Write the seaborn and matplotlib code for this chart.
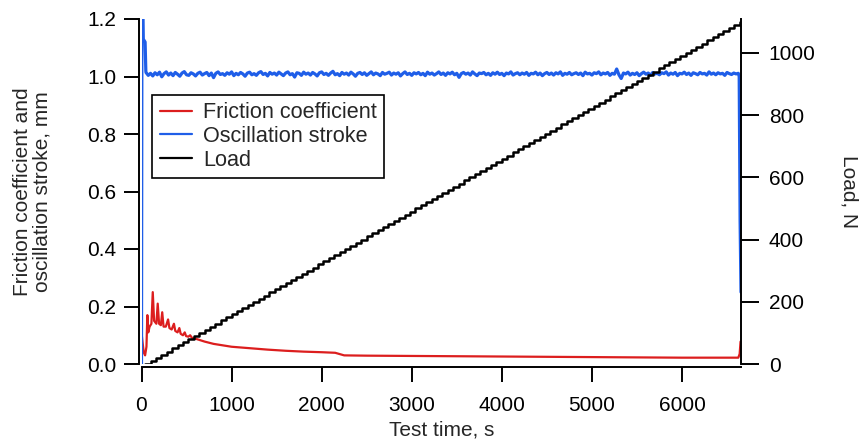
import numpy as np
import pandas as pd
import matplotlib
matplotlib.use("Agg")
import matplotlib.pyplot as plt
import seaborn as sns

# ---------------- data ----------------
friction_time = [0, 10, 25, 40, 55, 65, 75, 90, 110, 125, 140, 165, 180, 195, 215,
                 230, 245, 270, 295, 310, 335, 360, 375, 400, 420, 435, 460, 480,
                 495, 520, 540, 560, 600, 650, 700, 800, 900, 1000, 1200, 1400,
                 1600, 1800, 2000, 2150, 2250, 2500, 3000, 3500, 4000, 4500, 5000,
                 5500, 6000, 6400, 6625, 6640, 6650]
friction_val = [0.11, 0.08, 0.04, 0.03, 0.06, 0.17, 0.11, 0.13, 0.14, 0.25, 0.15,
                0.14, 0.21, 0.14, 0.135, 0.18, 0.13, 0.13, 0.155, 0.125, 0.12, 0.14,
                0.115, 0.11, 0.125, 0.105, 0.10, 0.11, 0.097, 0.095, 0.10, 0.091,
                0.088, 0.083, 0.078, 0.070, 0.065, 0.060, 0.055, 0.050, 0.046,
                0.043, 0.041, 0.039, 0.030, 0.029, 0.028, 0.027, 0.026, 0.025,
                0.024, 0.023, 0.022, 0.022, 0.022, 0.035, 0.078]

stroke_start_time = [0, 5, 15, 20, 40, 48]
stroke_start_val = [0.0, 1.30, 1.25, 1.13, 1.12, 1.02]
stroke_noise = [
    1.014, 1.004, 1.011, 1.002, 1.013, 1.006, 1.015, 0.999, 1.010, 1.016, 1.005, 1.012,
    1.003, 1.014, 1.008, 1.001, 1.012, 1.017, 1.006, 1.004, 1.013, 1.009, 1.002, 1.011,
    1.015, 1.005, 1.010, 1.014, 1.003, 1.012, 0.996, 1.011, 1.016, 1.007, 1.010, 1.004,
    1.013, 1.008, 1.016, 1.003, 1.011, 1.006, 1.014, 1.009, 1.001, 1.012, 1.015, 1.006,
    1.010, 1.004, 1.013, 1.017, 1.007, 1.011, 1.002, 1.014, 1.008, 1.012, 1.005, 1.015,
    1.009, 1.003, 1.012, 1.016, 1.006, 1.010, 0.998, 1.013, 1.011, 1.004, 1.015, 1.008,
    1.012, 1.005, 1.014, 1.009, 1.002, 1.013, 1.016, 1.007, 1.011, 1.004, 1.012, 1.018,
    1.006, 1.010, 1.003, 1.014, 1.008, 1.012, 1.005, 1.015, 1.009, 1.001, 1.011, 1.014,
    1.007, 1.013, 1.004, 1.010, 1.016, 1.006, 1.012, 1.009, 1.003, 1.014, 1.008, 1.011,
    1.015, 1.005, 1.012, 1.008, 1.013, 1.002, 1.010, 1.016, 1.007, 1.011, 1.004, 1.013,
    1.009, 1.014, 1.006, 1.011, 1.003, 1.015, 1.008, 1.012, 1.005, 1.010, 1.016, 1.007,
    1.012, 1.004, 1.013, 1.009, 1.015, 1.006, 1.011, 0.997, 1.010, 1.014, 1.008, 1.012,
    1.005, 1.016, 1.009, 1.003, 1.012, 1.010, 1.014, 1.006, 1.011, 1.004, 1.013, 1.008,
    1.015, 1.007, 1.011, 1.003, 1.012, 1.009, 1.016, 1.005, 1.010, 1.013, 1.006, 1.012,
    1.008, 1.014, 1.004, 1.011, 1.009, 1.015, 1.006, 1.012, 1.003, 1.010, 1.014, 1.007,
    1.012, 1.005, 1.013, 1.009, 1.016, 1.004, 1.011, 1.008, 1.014, 1.006, 1.010, 1.013,
    1.007, 1.012, 1.003, 1.015, 1.009, 1.011, 1.005, 1.013, 1.010, 1.016, 1.006, 1.012,
    1.009, 1.014, 1.004, 1.011, 1.008, 1.026, 1.006, 0.993, 1.012, 1.009, 1.015, 1.005,
    1.011, 1.007, 1.013, 1.003, 1.010, 1.015, 1.008, 1.012, 1.004, 1.014, 1.009, 1.011,
    1.006, 1.013, 1.010, 1.016, 1.005, 1.012, 1.008, 1.014, 1.003, 1.011, 1.009, 1.015,
    1.007, 1.012, 1.004, 1.013, 1.010, 1.006, 1.014, 1.009, 1.011, 1.005, 1.016, 1.008,
    1.012, 1.006, 1.013, 1.009, 1.011, 1.004, 1.014, 1.010, 1.007, 1.012, 1.009, 1.011]
stroke_end_time = [6635, 6645, 6655]
stroke_end_val = [1.00, 0.50, 0.25]

load_N = [0, 10, 20, 30, 40, 50, 60, 70, 80, 90, 100, 110, 120, 130, 140, 150,
          160, 170, 180, 190, 200, 210, 220, 230, 240, 250, 260, 270, 280, 290,
          300, 310, 320, 330, 340, 350, 360, 370, 380, 390, 400, 410, 420, 430,
          440, 450, 460, 470, 480, 490, 500, 510, 520, 530, 540, 550, 560, 570,
          580, 590, 600, 610, 620, 630, 640, 650, 660, 670, 680, 690, 700, 710,
          720, 730, 740, 750, 760, 770, 780, 790, 800, 810, 820, 830, 840, 850,
          860, 870, 880, 890, 900, 910, 920, 930, 940, 950, 960, 970, 980, 990,
          1000, 1010, 1020, 1030, 1040, 1050, 1060, 1070, 1080, 1090, 1100]

x_ticks = [0, 1000, 2000, 3000, 4000, 5000, 6000]
left_ticks = [0.0, 0.2, 0.4, 0.6, 0.8, 1.0, 1.2]
right_ticks = [0, 200, 400, 600, 800, 1000]

# ---------------- tables ----------------
noise_time = list(50 + 25 * np.arange(len(stroke_noise)))
df_fric = pd.DataFrame({"t": friction_time, "v": friction_val})
df_stroke = pd.DataFrame({"t": stroke_start_time + noise_time + stroke_end_time,
                          "v": stroke_start_val + stroke_noise + stroke_end_val})
load_time = list(40 + 60 * np.arange(len(load_N)))
df_load = pd.DataFrame({"t": load_time + [6660], "v": load_N + [load_N[-1]]})

# ---------------- style ----------------
sns.set_style("white")
plt.rcParams["font.family"] = ["Liberation Sans", "DejaVu Sans"]
FS = 15.0
FS_LEG = 15.6
RED = "#dc1e1e"
BLUE = "#1f5ee8"

fig = plt.figure(figsize=(8.63, 4.46), dpi=100)
ax = fig.add_axes([141.5 / 863, (446 - 364) / 446, (741 - 141.5) / 863, 345 / 446])
ax2 = ax.twinx()

sns.lineplot(data=df_fric, x="t", y="v", ax=ax, color=RED, lw=1.6,
             estimator=None, sort=False, label="Friction coefficient", legend=False)
sns.lineplot(data=df_stroke, x="t", y="v", ax=ax, color=BLUE, lw=2.3,
             estimator=None, sort=False, label="Oscillation stroke", legend=False)
sns.lineplot(data=df_load, x="t", y="v", ax=ax2, color="black", lw=1.8,
             estimator=None, sort=False, drawstyle="steps-post", label="Load",
             legend=False)

ax.set_xlim(0, 6655)
ax.set_ylim(0, 1.2)
ax2.set_ylim(0, 1109)
ax.set_xticks(x_ticks)
ax.set_yticks(left_ticks)
ax.set_yticklabels([f"{v:.1f}" for v in left_ticks])
ax2.set_yticks(right_ticks)

for s in ["top", "right"]:
    ax.spines[s].set_visible(False)
for s in ["top", "left", "bottom"]:
    ax2.spines[s].set_visible(False)
for sp in [ax.spines["left"], ax.spines["bottom"], ax2.spines["right"]]:
    sp.set_linewidth(1.4)
    sp.set_color("black")
ax.spines["left"].set_position(("outward", 2))
ax.spines["bottom"].set_position(("outward", 2))

ax.tick_params(axis="both", direction="out", length=11, width=1.4, colors="black",
               labelsize=FS, left=True, bottom=True)
ax.tick_params(axis="y", pad=5)
ax.tick_params(axis="x", pad=10)
ax2.tick_params(axis="y", direction="out", length=13, width=1.4, colors="black",
                labelsize=FS, right=True, pad=7)

ax.set_xlabel("Test time, s", fontsize=FS, labelpad=4)
ax.set_ylabel("Friction coefficient and\noscillation stroke, mm", fontsize=FS,
              linespacing=1.0, labelpad=26)
ax2.set_ylabel("Load, N", fontsize=FS, rotation=270, labelpad=31)

h1, l1 = ax.get_legend_handles_labels()
h2, l2 = ax2.get_legend_handles_labels()
leg = ax2.legend(h1 + h2, l1 + l2, loc="upper left", bbox_to_anchor=(0.0175, 0.78),
                 borderaxespad=0, fontsize=FS_LEG, frameon=True, fancybox=False,
                 edgecolor="black", framealpha=1, handlelength=1.5,
                 handletextpad=0.5, labelspacing=0.12, borderpad=0.35)
leg.get_frame().set_linewidth(1.2)
for line in leg.get_lines():
    line.set_linewidth(1.6)

fig.savefig("out.png", dpi=100)
